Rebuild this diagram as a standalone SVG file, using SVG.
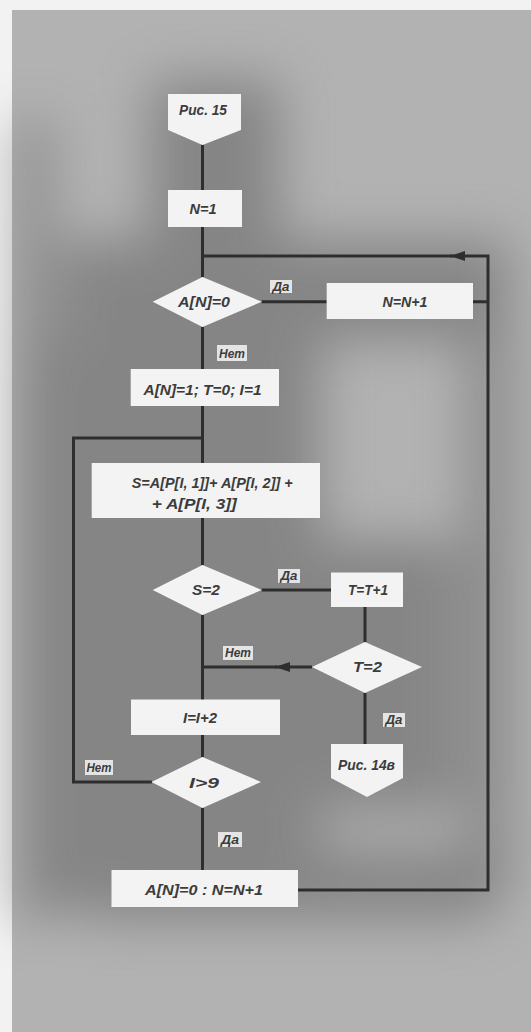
<svg xmlns="http://www.w3.org/2000/svg" width="531" height="1032" viewBox="0 0 531 1032">
<defs>
<filter id="blur" x="-50%" y="-50%" width="200%" height="200%"><feGaussianBlur stdDeviation="26"/></filter>
<marker id="arr" markerWidth="16" markerHeight="10" refX="15" refY="5" orient="auto" markerUnits="userSpaceOnUse"><path d="M0,0 L15,5 L0,10 Z" fill="#2e2e2e"/></marker>
<style>
.n{fill:#f3f3f3;stroke:none}
.t{font-family:"Liberation Sans",Arial,sans-serif;font-style:italic;font-weight:bold;font-size:14px;fill:#3c3c3c;text-anchor:middle}
.l{font-family:"Liberation Sans",Arial,sans-serif;font-style:italic;font-weight:bold;font-size:12px;fill:#3c3c3c;text-anchor:middle}
.lb{fill:#e4e4e4}
.c{fill:none;stroke:#2e2e2e;stroke-width:3}
</style>
</defs>
<rect x="0" y="0" width="531" height="1032" fill="#f2f2f2"/>
<rect x="12" y="10" width="519" height="1022" fill="#b2b2b2"/>
<g filter="url(#blur)" fill="#7a7a7a" opacity="0.8">
<rect x="150" y="80" width="130" height="170"/>
<rect x="60" y="240" width="450" height="100"/>
<rect x="50" y="340" width="270" height="570"/>
<rect x="300" y="540" width="160" height="270"/>
<rect x="90" y="850" width="400" height="70"/>
<rect x="470" y="300" width="40" height="600"/>
<rect x="20" y="120" width="30" height="800"/>
</g>
<g id="connectors">
<path class="c" d="M202.5,145 V190 M202.5,227 V277 M202.5,327 V369 M202.5,406 V463 M202.5,518 V565 M202.5,615 V700 M202.5,735 V757 M202.5,808 V870"/>
<path class="c" d="M261.7,301.7 H326.7 M473,301.7 H488"/>
<path class="c" d="M298,890 H488 V256 H450" marker-end="url(#arr)"/>
<path class="c" d="M452,256 H202.5"/>
<path class="c" d="M261.7,590 H331 M365,607 V642 M365,693 V744"/>
<path class="c" d="M312,667 H275" marker-end="url(#arr)"/>
<path class="c" d="M277,667 H202.5"/>
<path class="c" d="M152,782 H73.5 V438 H202.5"/>
</g>
<g id="start">
<path class="n" d="M168,94 H241 V130 L202.5,145 L168,130 Z"/>
<text class="t" x="203" y="115" textLength="48" lengthAdjust="spacingAndGlyphs">Рис. 15</text>
</g>
<g id="n1">
<rect class="n" x="168" y="190" width="74" height="37"/>
<text class="t" x="203" y="213.5" textLength="27" lengthAdjust="spacingAndGlyphs">N=1</text>
</g>
<g id="d1">
<path class="n" d="M152.7,301.7 L202.5,277 L261.7,301.7 L202.5,327 Z"/>
<text class="t" x="204" y="307" textLength="52" lengthAdjust="spacingAndGlyphs">A[N]=0</text>
</g>
<g id="inc1">
<rect class="n" x="326.7" y="283" width="146.3" height="36"/>
<text class="t" x="405" y="306.5" textLength="45" lengthAdjust="spacingAndGlyphs">N=N+1</text>
</g>
<g id="init">
<rect class="n" x="130.7" y="369" width="148.3" height="37"/>
<text class="t" x="202.5" y="395" textLength="118" lengthAdjust="spacingAndGlyphs">A[N]=1; T=0; I=1</text>
</g>
<g id="sum">
<rect class="n" x="91.7" y="463" width="228.3" height="55"/>
<text class="t" x="131.7" y="487.5" style="text-anchor:start" textLength="161" lengthAdjust="spacingAndGlyphs">S=A[P[I, 1]]+ A[P[I, 2]] +</text>
<text class="t" x="151.7" y="508.5" style="text-anchor:start" textLength="85" lengthAdjust="spacingAndGlyphs">+ A[P[I, 3]]</text>
</g>
<g id="d2">
<path class="n" d="M152.7,590 L202.5,565 L261.7,590 L202.5,615 Z"/>
<text class="t" x="206" y="595" textLength="28" lengthAdjust="spacingAndGlyphs">S=2</text>
</g>
<g id="tinc">
<rect class="n" x="331" y="572.5" width="72" height="34.5"/>
<text class="t" x="368" y="595" textLength="40" lengthAdjust="spacingAndGlyphs">T=T+1</text>
</g>
<g id="d3">
<path class="n" d="M312,667 L365,642 L422,667 L365,693 Z"/>
<text class="t" x="367.5" y="672" textLength="29" lengthAdjust="spacingAndGlyphs">T=2</text>
</g>
<g id="end14">
<path class="n" d="M331,744 H403 V778 L367,797 L331,778 Z"/>
<text class="t" x="366.5" y="770" textLength="57" lengthAdjust="spacingAndGlyphs">Рис. 14в</text>
</g>
<g id="iinc">
<rect class="n" x="131" y="699.5" width="149" height="35.5"/>
<text class="t" x="200" y="723" textLength="34" lengthAdjust="spacingAndGlyphs">I=I+2</text>
</g>
<g id="d4">
<path class="n" d="M151.5,782 L202.5,757 L261,782 L202.5,808 Z"/>
<text class="t" x="204" y="788" font-size="13" textLength="30" lengthAdjust="spacingAndGlyphs">I&gt;9</text>
</g>
<g id="final">
<rect class="n" x="111.5" y="870" width="186.5" height="37"/>
<text class="t" x="145" y="895" style="text-anchor:start" textLength="118" lengthAdjust="spacingAndGlyphs">A[N]=0 :  N=N+1</text>
</g>
<g id="labels">
<rect class="lb" x="270" y="280" width="22" height="13"/><text class="l" x="281" y="291" textLength="17" lengthAdjust="spacingAndGlyphs">Да</text>
<rect class="lb" x="217" y="345" width="30" height="16"/><text class="l" x="232" y="358" textLength="26" lengthAdjust="spacingAndGlyphs">Нет</text>
<rect class="lb" x="278" y="569" width="22" height="14"/><text class="l" x="289" y="580" textLength="17" lengthAdjust="spacingAndGlyphs">Да</text>
<rect class="lb" x="223" y="646" width="30" height="14"/><text class="l" x="238" y="657" textLength="26" lengthAdjust="spacingAndGlyphs">Нет</text>
<rect class="lb" x="383" y="713" width="22" height="14"/><text class="l" x="394" y="724" textLength="17" lengthAdjust="spacingAndGlyphs">Да</text>
<rect class="lb" x="85" y="760" width="28" height="15"/><text class="l" x="99" y="772" textLength="25" lengthAdjust="spacingAndGlyphs">Нет</text>
<rect class="lb" x="218" y="832" width="24" height="15"/><text class="l" x="230" y="844" textLength="18" lengthAdjust="spacingAndGlyphs">Да</text>
</g>
</svg>
